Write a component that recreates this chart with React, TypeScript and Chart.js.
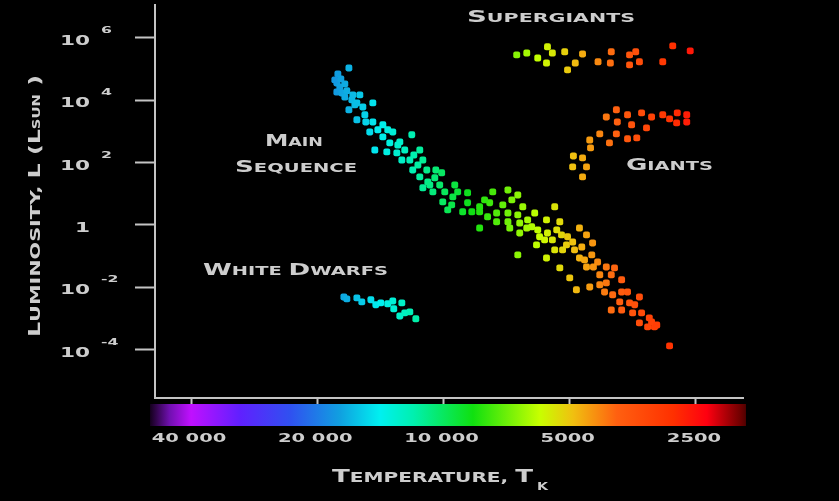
import { useEffect, useRef } from "react";
import { Chart, registerables } from "chart.js";

Chart.register(...registerables);

// ---- Star samples: effective temperature (K) and log10 luminosity (L_sun) ----
const mainSeqTemp = [
  16810, 17860, 17960, 17670, 17190, 17960, 17470, 17000, 17190, 16450,
  16540, 15830, 16090, 16810, 15570, 14740, 16090, 15400, 14740, 13950,
  14990, 13950, 13210, 13430, 12710, 11900, 14580, 12920, 12370, 12030,
  11390, 11200, 12570, 11840, 10960, 10430, 11390, 10900, 10490, 10100,
  11200, 10600, 9930, 9400, 10040, 9500, 8760, 8760, 9000, 8560,
  9560, 8200, 7760, 7630, 7020, 6650, 8200, 7850, 7470, 7470,
  7020, 7020, 6650, 6470, 6580, 6300, 6060, 6160, 5960, 5680,
  5430, 5280, 5900, 5650, 5370, 5500, 5230, 5060, 4740, 4560,
  5090, 4920, 5200, 4870, 4680, 4410, 4740, 4430, 4290, 4560,
  4390, 4090, 3910, 5280, 5000, 4820, 4480, 4240, 4090, 4130,
  3950, 3760, 3760, 3410, 3800, 3600, 3980, 3760, 3540, 3370,
  3410, 3230, 3260, 3140, 8200, 6950, 6580, 6000, 6650, 5680,
  2890, 7980, 7220, 6870, 6330, 5740, 5430, 4610, 4240, 3980,
  3640, 3500, 3190, 3100, 18160, 17570, 16270, 15320, 14340, 13580,
  12850, 13650, 11770, 11510, 10780, 10210, 9770, 9250,
];
const mainSeqLogL = [
  5.03, 4.84, 4.55, 4.42, 4.52, 4.26, 4.23, 4.3, 4.1, 4.17,
  4.01, 4.17, 3.91, 3.69, 3.78, 3.91, 3.37, 3.53, 3.3, 3.21,
  2.98, 2.82, 2.98, 2.63, 2.66, 2.89, 2.4, 2.31, 2.4, 2.08,
  2.4, 2.08, 2.08, 1.76, 1.76, 1.76, 1.54, 1.38, 1.51, 1.67,
  1.19, 1.06, 1.06, 1.28, 0.74, 0.9, 1.03, 0.71, 0.42, 0.42,
  0.64, 0.58, 0.71, 1.06, 1.12, 0.96, 0.42, 0.26, 0.38, 0.1,
  0.38, 0.1, 0.32, 0.58, 0.06, 0.16, 0.38, -0.06, -0.16, 0.16,
  0.58, 0.1, -0.38, -0.26, -0.16, -0.48, -0.32, -0.38, -0.1, -0.32,
  -0.64, -0.55, -0.8, -0.8, -0.71, -0.58, -1.06, -0.96, -1.19, -1.35,
  -1.35, -1.35, -1.38, -1.38, -1.7, -2.08, -1.99, -1.92, -1.86, -2.15,
  -2.24, -1.76, -2.15, -2.31, -2.47, -2.5, -2.73, -2.73, -2.82, -2.82,
  -3.14, -2.98, -3.27, -3.27, -0.1, -0.1, -0.26, -0.64, -0.96, -1.06,
  -3.88, 0.8, 0.64, 0.8, -0.1, -0.48, -0.8, -1.12, -1.6, -1.6,
  -2.15, -2.56, -3.11, -3.21, 4.65, 4.68, 3.85, 3.3, 3.05, 3.05,
  2.56, 2.34, 2.24, 1.92, 1.28, 1.28, 0.48, 1.06,
];

const superTemp = [
  6690, 6330, 5960, 5650, 5500, 5680, 5140, 5060, 4850, 4660,
  4280, 3980, 4000, 3600, 3480, 3600, 3410, 3000, 2840, 2580,
];
const superLogL = [
  5.45, 5.51, 5.35, 5.71, 5.51, 5.19, 5.55, 4.97, 5.19, 5.48,
  5.23, 5.55, 5.19, 5.45, 5.55, 5.13, 5.23, 5.23, 5.74, 5.58,
];

const giantTemp = [
  3870, 4090, 3850, 3640, 3370, 3190, 3000, 2890, 2770, 2630,
  2630, 2780, 3560, 3280, 4240, 3870, 3640, 3460, 4020, 4480,
  4460, 4900, 4660, 4920, 4560, 4660,
];
const giantLogL = [
  3.69, 3.46, 3.3, 3.53, 3.59, 3.46, 3.53, 3.4, 3.59, 3.53,
  3.3, 3.27, 3.21, 3.11, 2.92, 2.92, 2.76, 2.79, 2.63, 2.72,
  2.47, 2.21, 2.15, 1.86, 1.86, 1.54,
];

const dwarfTemp = [
  17280, 17000, 16090, 15660, 14900, 14500, 14110, 13580, 13210, 13140,
  12570, 12710, 12370, 12030, 11640,
];
const dwarfLogL = [
  -2.31, -2.37, -2.34, -2.47, -2.4, -2.56, -2.5, -2.53, -2.44, -2.69,
  -2.5, -2.92, -2.82, -2.79, -3.01,
];

// ---- Axes ----
const tempTicks = [40000, 20000, 10000, 5000, 2500];
const tempTickLabels = ["40 000", "20 000", "10 000", "5000", "2500"];
const lumTicks = [1e6, 1e4, 1e2, 1, 1e-2, 1e-4];
const lumTickBase = ["10", "10", "10", "1", "10", "10"];
const lumTickExp = ["6", "4", "2", "", "-2", "-4"];

// ---- Spectrum (temperature -> colour) used for the stars and the colour bar ----
const spectrumTemps = [50100, 45000, 40000, 30560, 23250, 17650, 14170, 11820, 8510, 5890, 4910, 3860, 2835, 2355, 1960, 1900];
const spectrumColors = [
  "#14001c", "#7010b0", "#c010ff", "#6020ff", "#3050f0", "#10a0e0", "#00f0f0", "#00f0b0",
  "#10e010", "#c8ff00", "#f0c010", "#ff6010", "#ff3000", "#ff0010", "#700000", "#500000",
];

const AXIS = "#c4c4c4";
const TEXT = "#cdcdcd";
const FONT = '"DejaVu Sans", sans-serif';

function hexToRgb(h: string): number[] {
  const n = parseInt(h.slice(1), 16);
  return [(n >> 16) & 255, (n >> 8) & 255, n & 255];
}

function spectrumColor(t: number): string {
  const lt = Math.log(t);
  const n = spectrumTemps.length;
  if (lt >= Math.log(spectrumTemps[0])) return spectrumColors[0];
  for (let i = 0; i < n - 1; i++) {
    const a = Math.log(spectrumTemps[i]);
    const b = Math.log(spectrumTemps[i + 1]);
    if (lt <= a && lt >= b) {
      const f = (a - lt) / (a - b);
      const c1 = hexToRgb(spectrumColors[i]);
      const c2 = hexToRgb(spectrumColors[i + 1]);
      const c = c1.map((v, k) => Math.round(v + (c2[k] - v) * f));
      return `rgb(${c[0]},${c[1]},${c[2]})`;
    }
  }
  return spectrumColors[n - 1];
}

type Run = { text: string; size: number; dy?: number };

// Upper-case letters of the source become large capitals, the rest small capitals.
function smallCaps(text: string, big: number, small: number): Run[] {
  const runs: Run[] = [];
  for (const ch of text) {
    const size = /[A-Z]/.test(ch) ? big : small;
    const last = runs[runs.length - 1];
    if (last && last.size === size) last.text += ch.toUpperCase();
    else runs.push({ text: ch.toUpperCase(), size });
  }
  return runs;
}

function drawRuns(
  ctx: CanvasRenderingContext2D,
  runs: Run[],
  x: number,
  y: number,
  opts: { width?: number; sx?: number; align?: "left" | "center" | "right"; weight?: string }
) {
  ctx.save();
  ctx.textBaseline = "alphabetic";
  ctx.textAlign = "left";
  const weight = opts.weight ?? "bold";
  const widths = runs.map((r) => {
    ctx.font = `${weight} ${r.size}px ${FONT}`;
    return ctx.measureText(r.text).width;
  });
  const natural = widths.reduce((a, b) => a + b, 0);
  const sx = opts.width ? opts.width / natural : opts.sx ?? 1;
  const total = natural * sx;
  const align = opts.align ?? "left";
  const x0 = align === "center" ? x - total / 2 : align === "right" ? x - total : x;
  ctx.translate(x0, y);
  ctx.scale(sx, 1);
  let cx = 0;
  runs.forEach((r, i) => {
    ctx.font = `${weight} ${r.size}px ${FONT}`;
    ctx.fillText(r.text, cx, r.dy ?? 0);
    cx += widths[i];
  });
  ctx.restore();
}

const backdrop = {
  id: "backdrop",
  beforeDraw(chart: Chart) {
    const { ctx, width, height } = chart;
    ctx.save();
    ctx.fillStyle = "#000";
    ctx.fillRect(0, 0, width, height);
    ctx.restore();
  },
};

const decorations = {
  id: "decorations",
  afterDraw(chart: Chart) {
    const { ctx, chartArea } = chart;
    const xs = chart.scales.x;
    const ys = chart.scales.y;

    // colour bar under the temperature axis
    const x0 = xs.getPixelForValue(spectrumTemps[0]);
    const x1 = xs.getPixelForValue(spectrumTemps[spectrumTemps.length - 1]);
    const grad = ctx.createLinearGradient(x0, 0, x1, 0);
    spectrumTemps.forEach((t, i) => {
      const f = (xs.getPixelForValue(t) - x0) / (x1 - x0);
      grad.addColorStop(Math.min(1, Math.max(0, f)), spectrumColors[i]);
    });
    ctx.save();
    ctx.fillStyle = grad;
    ctx.fillRect(x0, chartArea.bottom + 6, x1 - x0, 22);
    ctx.restore();

    ctx.save();
    ctx.fillStyle = TEXT;

    // temperature tick labels
    tempTicks.forEach((t, i) => {
      drawRuns(ctx, [{ text: tempTickLabels[i], size: 13 }], xs.getPixelForValue(t) - 2, 442, {
        sx: 1.5,
        align: "center",
      });
    });

    // luminosity tick labels (base with raised exponent)
    lumTicks.forEach((v, i) => {
      const py = ys.getPixelForValue(v) + 2;
      drawRuns(ctx, [{ text: lumTickBase[i], size: 13.7 }], 90, py + 5, { sx: 1.58, align: "right" });
      if (lumTickExp[i]) {
        drawRuns(ctx, [{ text: lumTickExp[i], size: 8.5 }], 101, py - 7, { sx: 1.85, align: "left" });
      }
    });

    // region labels
    drawRuns(ctx, smallCaps("Supergiants", 16.5, 12.3), 467, 22, { width: 168 });
    drawRuns(ctx, smallCaps("Main", 16.5, 12.3), 265, 146, { width: 58 });
    drawRuns(ctx, smallCaps("Sequence", 16.5, 12.3), 235, 172, { width: 122 });
    drawRuns(ctx, smallCaps("Giants", 16.5, 12.3), 626, 170, { width: 87 });
    drawRuns(ctx, smallCaps("White Dwarfs", 16.5, 12.3), 203, 275, { width: 185 });

    // axis titles
    drawRuns(ctx, smallCaps("Temperature, T", 17.8, 13.7), 332, 482, { width: 201 });
    drawRuns(ctx, [{ text: "K", size: 11 }], 537, 490, { width: 11 });

    ctx.save();
    ctx.translate(40, 337);
    ctx.rotate(-Math.PI / 2);
    drawRuns(
      ctx,
      [
        { text: "L", size: 16 },
        { text: "UMINOSITY, ", size: 14 },
        { text: "L (L", size: 16 },
        { text: "SUN", size: 10 },
        { text: " )", size: 16 },
      ],
      0,
      0,
      { width: 262 }
    );
    ctx.restore();
    ctx.restore();
  },
};

function points(temps: number[], logL: number[]) {
  return temps.map((t, i) => ({ x: t, y: Math.pow(10, logL[i]) }));
}

function starSet(label: string, temps: number[], logL: number[]) {
  return {
    label,
    data: points(temps, logL),
    pointBackgroundColor: temps.map(spectrumColor),
    pointBorderWidth: 0,
    pointStyle: "rectRounded" as const,
    pointRadius: 4,
    pointHoverRadius: 4,
  };
}

export default function App() {
  const ref = useRef<HTMLCanvasElement | null>(null);

  useEffect(() => {
    if (!ref.current) return;
    const chart = new Chart(ref.current, {
      type: "scatter",
      data: {
        datasets: [
          starSet("Main sequence", mainSeqTemp, mainSeqLogL),
          starSet("Giants", giantTemp, giantLogL),
          starSet("Supergiants", superTemp, superLogL),
          starSet("White dwarfs", dwarfTemp, dwarfLogL),
        ],
      },
      options: {
        animation: false,
        responsive: false,
        devicePixelRatio: 1,
        layout: { padding: { left: 135, right: 96, top: 5, bottom: 97 } },
        plugins: { legend: { display: false }, tooltip: { enabled: false } },
        scales: {
          x: {
            type: "logarithmic",
            reverse: true,
            min: 1931,
            max: 48745,
            bounds: "data",
            afterBuildTicks: (s: any) => {
              s.ticks = tempTicks.map((v) => ({ value: v }));
            },
            afterFit: (s: any) => {
              s.height = 6;
            },
            ticks: { display: false },
            grid: { drawOnChartArea: false, drawTicks: true, tickLength: 6, tickWidth: 2, tickColor: AXIS },
            border: { display: true, color: AXIS, width: 2 },
          },
          y: {
            type: "logarithmic",
            min: Math.pow(10, -5.55),
            max: Math.pow(10, 7.05),
            bounds: "data",
            afterBuildTicks: (s: any) => {
              s.ticks = lumTicks.map((v) => ({ value: v }));
            },
            afterFit: (s: any) => {
              s.width = 20;
            },
            ticks: { display: false },
            grid: { drawOnChartArea: false, drawTicks: true, tickLength: 20, tickWidth: 2, tickColor: AXIS },
            border: { display: true, color: AXIS, width: 2 },
          },
        },
      },
      plugins: [backdrop, decorations],
    });
    return () => chart.destroy();
  }, []);

  return (
    <div style={{ position: "fixed", left: 0, top: 0, width: 839, height: 501, background: "#000" }}>
      <canvas ref={ref} width={839} height={501} style={{ display: "block" }} />
    </div>
  );
}
